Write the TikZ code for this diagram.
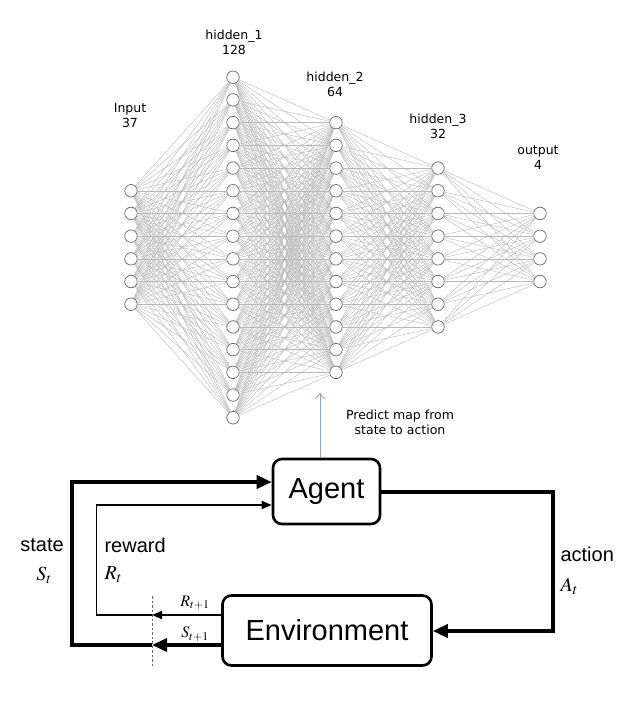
\documentclass[tikz,border=0pt]{standalone}
\usepackage{mathptmx}
\usepackage{fontspec}
\setmainfont{Liberation Sans}
\newfontfamily\netfont{DejaVu Sans}
\usepackage{tikz}
\usetikzlibrary{arrows.meta,positioning,calc,shadows}

\definecolor{predictblue}{RGB}{120,168,220}

\begin{document}
\begin{tikzpicture}[
    x=1pt, y=-1pt,
    neuron/.style={circle, draw=black!60, fill=white, line width=0.7pt, minimum size=12.5pt, inner sep=0pt},
    synapse/.style={draw=black!28, line width=0.4pt},
    layer label/.style={align=center, font=\netfont\fontsize{12.5}{15}\selectfont},
    rl box/.style={draw=black, fill=white, line width=2.6pt, rounded corners=9pt,
        font=\fontsize{29}{34}\selectfont, drop shadow={shadow xshift=1.2pt, shadow yshift=-1.2pt, opacity=0.35}},
    heavy/.style={line width=3.6pt, -{Triangle[length=15pt, width=13pt]}},
    light/.style={line width=1.8pt, -{Triangle[length=10pt, width=8pt]}},
    rl label/.style={font=\fontsize{20}{24}\selectfont}
]
    \useasboundingbox (0,0) rectangle (636,722);

    \foreach \n/\cnt/\x in {in/6/131, ha/16/233, hb/12/336, hc/8/438, out/4/540}
        \foreach \i in {1,...,\cnt}
            \node[neuron] (\n-\i) at (\x, {247.5+(\i-(\cnt+1)/2)*22.7}) {};

    \foreach \a/\na/\b/\nb in {in/6/ha/16, ha/16/hb/12, hb/12/hc/8, hc/8/out/4}
        \foreach \i in {1,...,\na}
            \foreach \j in {1,...,\nb}
                \draw[synapse] (\a-\i) -- (\b-\j);

    \node[layer label] (lbl-in) at (130,116) {Input\\37};
    \node[layer label] (lbl-ha) at (234,42) {hidden\_1\\128};
    \node[layer label] (lbl-hb) at (335,84) {hidden\_2\\64};
    \node[layer label] (lbl-hc) at (438,126) {hidden\_3\\32};
    \node[layer label] (lbl-out) at (538,158) {output\\4};

    \node[rl box, minimum width=107pt, minimum height=65pt] (agent) at (326.5,491.5) {Agent};
    \node[rl box, minimum width=209pt, minimum height=70pt] (env) at (327,630.5) {Environment};

    \coordinate (pred-tip) at (320,393);
    \draw[predictblue, line width=0.9pt, -{Straight Barb[length=5pt, width=9pt]}] (agent.north -| pred-tip) -- (pred-tip);
    \node[layer label] (predict) at (400,422) {Predict map from\\state to action};

    \coordinate (act-top) at (553,492);
    \coordinate (act-bot) at (553,631);
    \draw[heavy] (agent.east |- act-top) -- (act-top) -- (act-bot) -- (env.east |- act-bot);

    \coordinate (cut-top) at (152,596);
    \coordinate (cut-bot) at (152,667);
    \draw[black!60, line width=0.9pt, dash pattern=on 2.5pt off 2pt] (cut-top) -- (cut-bot);

    \coordinate (env-s) at ($(env.west)+(0,14.5)$);
    \coordinate (cut-s) at (cut-top |- env-s);
    \coordinate (st-bl) at (72,645);
    \coordinate (st-tl) at (72,482);
    \coordinate (agent-s) at (agent.west |- st-tl);
    \draw[heavy] (env-s) -- (cut-s);
    \draw[heavy] (cut-s) -- (st-bl) -- (st-tl) -- (agent-s);

    \coordinate (env-r) at ($(env.west)+(0,-15.5)$);
    \coordinate (cut-r) at (cut-top |- env-r);
    \coordinate (rw-bl) at (96.5,615);
    \coordinate (rw-tl) at (96.5,505);
    \coordinate (agent-r) at (agent.west |- rw-tl);
    \draw[light] (env-r) -- (cut-r);
    \draw[light] (cut-r) -- (rw-bl) -- (rw-tl) -- (agent-r);

    \node[font=\fontsize{16}{19}\selectfont] (r-next) at (195,603) {$R_{t+1}$};
    \node[font=\fontsize{16}{19}\selectfont] (s-next) at (195,634) {$S_{t+1}$};

    \node[rl label] (state) at (42,545) {state};
    \node[rl label] (s-t) at (44,575) {$S_t$};
    \node[rl label, anchor=west] (reward) at (101,545) {reward};
    \node[rl label, anchor=west] (r-t) at (101,575) {$R_t$};
    \node[rl label, anchor=west] (action) at (557,554) {action};
    \node[rl label, anchor=west] (a-t) at (557,586) {$A_t$};
\end{tikzpicture}
\end{document}
